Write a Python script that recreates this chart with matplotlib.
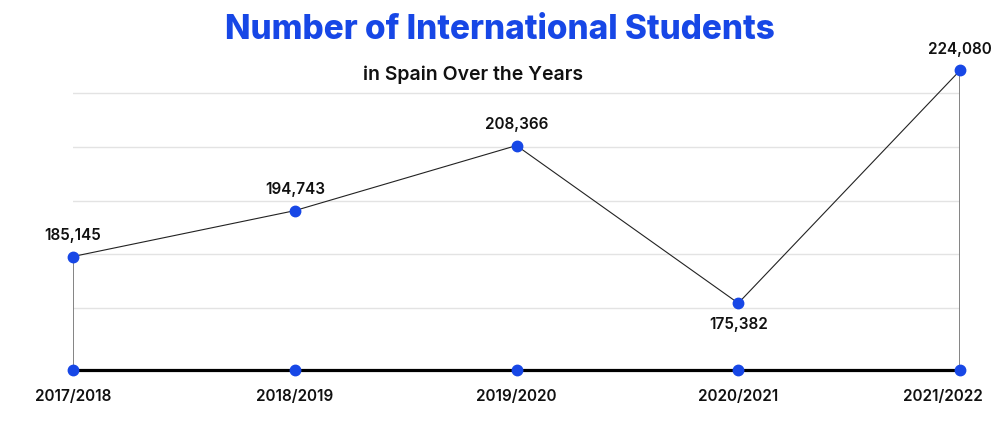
import numpy as np
import matplotlib
matplotlib.use("Agg")
from matplotlib import pyplot as plt
from matplotlib.transforms import ScaledTranslation

# data
years = ["2017/2018", "2018/2019", "2019/2020", "2020/2021", "2021/2022"]
students = [185145, 194743, 208366, 175382, 224080]
label_pos = ["above", "above", "above", "below", "above"]

# axis range and light grid levels (chart has no visible y labels)
y_min, y_max = 161400, 226250
grid_levels = [174300, 185600, 196700, 208000, 219300]

blue = "#1747E6"
plt.rcParams["font.family"] = ["Inter", "DejaVu Sans"]

fig = plt.figure(figsize=(10, 4.23), dpi=100)
ax = fig.add_axes([0.073, 0.1253, 0.887, 0.7327])

x = np.arange(len(years))

# outline: down to the baseline at both ends
ax.plot(x, students, color="#222222", lw=0.8, zorder=3)
ax.plot([x[0], x[0]], [y_min, students[0]], color="#7a7a7a", lw=1.3, zorder=3)
ax.plot([x[-1], x[-1]], [y_min, students[-1]], color="#7a7a7a", lw=1.3, zorder=3)

# baseline
ax.axhline(y_min, color="black", lw=2.3, zorder=4, clip_on=False)

ax.plot(x, students, "o", color=blue, ms=7.5, zorder=5, clip_on=False)
ax.plot(x, [y_min] * len(x), "o", color=blue, ms=7.5, zorder=5, clip_on=False)

for xi, v, pos in zip(x, students, label_pos):
    dy = 10 if pos == "above" else -10
    va = "bottom" if pos == "above" else "top"
    ax.annotate(f"{v:,}", (xi, v), xytext=(0, dy), textcoords="offset points",
                ha="center", va=va, fontsize=11, fontweight="semibold", color="#111111")

ax.set_xlim(x[0], x[-1])
ax.set_ylim(y_min, y_max)
ax.set_yticks(grid_levels)
ax.yaxis.grid(True, color="#e3e3e3", lw=1)
ax.set_axisbelow(True)
ax.tick_params(axis="y", left=False, labelleft=False)
ax.tick_params(axis="x", length=0, pad=14)
ax.set_xticks(x)
ax.set_xticklabels(years, fontsize=11, fontweight="semibold", color="#111111")
# last label is nudged inward like the original
lbl = ax.get_xticklabels()[-1]
lbl.set_transform(lbl.get_transform() + ScaledTranslation(-17 / 100, 0, fig.dpi_scale_trans))

for s in ax.spines.values():
    s.set_visible(False)

fig.text(0.5, 0.93, "Number of International Students", ha="center", va="center",
         fontsize=24, fontweight="heavy", color=blue)
fig.text(0.473, 0.823, "in Spain Over the Years", ha="center", va="center",
         fontsize=14, fontweight="semibold", color="#111111")

fig.savefig("out.png", dpi=100)
